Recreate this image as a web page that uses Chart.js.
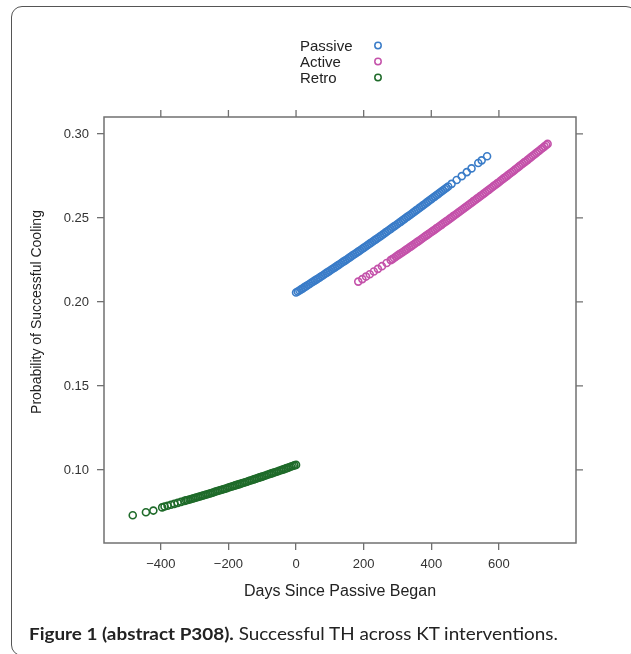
<!DOCTYPE html>
<html><head><meta charset="utf-8">
<script src="https://cdn.jsdelivr.net/npm/chart.js@4.4.1/dist/chart.umd.min.js"></script>
<style>
html,body{margin:0;padding:0;background:#fff;width:631px;height:654px;overflow:hidden;}
#wrap{position:relative;width:631px;height:654px;overflow:hidden;}
#frame{position:absolute;left:11px;top:6px;width:626px;height:650px;border:1.5px solid #555;border-radius:11px;box-sizing:border-box;}
canvas{position:absolute;left:0;top:0;}
#cap{position:absolute;left:29px;top:624px;font-family:Lato,"Open Sans",sans-serif;font-size:17px;line-height:20px;color:#222;white-space:nowrap;transform:scaleX(1.11);transform-origin:0 0;}
#cap b{font-weight:700;}
</style></head>
<body><div id="wrap"><div id="frame"></div><canvas id="c" width="631" height="654"></canvas><div id="cap"><b>Figure 1 (abstract P308).</b> Successful TH across KT interventions.</div></div>
<script>
const seriesNames = ['Passive','Active','Retro'];
const seriesColors = ['#3a7cc8','#c452aa','#1f6b2a'];

const xTicks = [-400,-200,0,200,400,600];
const yTicks = [0.10,0.15,0.20,0.25,0.30];
const xTitle = 'Days Since Passive Began';
const yTitle = 'Probability of Successful Cooling';

const passiveX = [
  0,5,10,15,20,25,30,35,40,45,
  50,55,60,65,70,75,80,85,90,95,
  100,105,110,115,120,125,130,135,140,145,
  150,155,160,165,170,175,180,185,190,195,
  200,205,210,215,220,225,230,235,240,245,
  250,255,260,265,270,275,280,285,290,295,
  300,305,310,315,320,325,330,335,340,345,
  350,355,360,365,370,375,380,385,390,395,
  400,405,410,415,420,425,430,435,440,445,
  450,460,475,490,505,519,539,549,565];
const passiveY = [
  0.2056,0.2062,0.2068,0.2075,0.2081,0.2088,0.2094,0.2101,0.2107,0.2114,
  0.2120,0.2127,0.2133,0.2140,0.2146,0.2153,0.2159,0.2166,0.2173,0.2179,
  0.2186,0.2193,0.2199,0.2206,0.2213,0.2219,0.2226,0.2233,0.2240,0.2246,
  0.2253,0.2260,0.2267,0.2274,0.2281,0.2287,0.2294,0.2301,0.2308,0.2315,
  0.2322,0.2329,0.2336,0.2343,0.2350,0.2357,0.2364,0.2371,0.2378,0.2385,
  0.2392,0.2399,0.2406,0.2414,0.2421,0.2428,0.2435,0.2443,0.2450,0.2457,
  0.2464,0.2471,0.2478,0.2486,0.2493,0.2501,0.2508,0.2515,0.2522,0.2530,
  0.2537,0.2545,0.2552,0.2560,0.2567,0.2575,0.2582,0.2590,0.2597,0.2605,
  0.2612,0.2620,0.2627,0.2635,0.2642,0.2650,0.2657,0.2665,0.2672,0.2680,
  0.2687,0.2703,0.2726,0.2749,0.2773,0.2795,0.2827,0.2843,0.2867];

const activeX = [
  184,196,207,218,230,242,254,268,
  280,285,290,295,300,305,310,315,320,325,
  330,335,340,345,350,355,360,365,370,375,
  380,385,390,395,400,405,410,415,420,425,
  430,435,440,445,450,455,460,465,470,475,
  480,485,490,495,500,505,510,515,520,525,
  530,535,540,545,550,555,560,565,570,575,
  580,585,590,595,600,605,610,615,620,625,
  630,635,640,645,650,655,660,665,670,675,
  680,685,690,695,700,705,710,715,720,725,
  730,735,740,744];
const activeY = [
  0.2121,0.2136,0.2151,0.2165,0.2181,0.2197,0.2213,0.2232,
  0.2249,0.2255,0.2262,0.2269,0.2276,0.2283,0.2290,0.2296,0.2303,0.2310,
  0.2317,0.2324,0.2331,0.2338,0.2345,0.2352,0.2359,0.2366,0.2373,0.2381,
  0.2388,0.2395,0.2402,0.2409,0.2416,0.2423,0.2430,0.2438,0.2445,0.2452,
  0.2459,0.2467,0.2474,0.2481,0.2488,0.2496,0.2503,0.2511,0.2518,0.2525,
  0.2532,0.2540,0.2547,0.2555,0.2562,0.2570,0.2577,0.2585,0.2592,0.2600,
  0.2607,0.2615,0.2622,0.2630,0.2637,0.2645,0.2652,0.2660,0.2667,0.2675,
  0.2683,0.2691,0.2698,0.2706,0.2713,0.2721,0.2729,0.2737,0.2744,0.2752,
  0.2760,0.2768,0.2775,0.2783,0.2791,0.2799,0.2807,0.2815,0.2823,0.2831,
  0.2838,0.2846,0.2854,0.2862,0.2870,0.2878,0.2886,0.2894,0.2902,0.2910,
  0.2918,0.2926,0.2934,0.2941];

const retroX = [
  -483,-444,-422,-396,-389,-380,-370,-360,-350,-340,
  -330,-325,-320,-315,-310,-305,-300,-295,-290,-285,
  -280,-275,-270,-265,-260,-255,-250,-245,-240,-235,
  -230,-225,-220,-215,-210,-205,-200,-195,-190,-185,
  -180,-175,-170,-165,-160,-155,-150,-145,-140,-135,
  -130,-125,-120,-115,-110,-105,-100,-95,-90,-85,
  -80,-75,-70,-65,-60,-55,-50,-45,-40,-35,
  -30,-25,-20,-15,-10,-5,0];
const retroY = [
  0.0730,0.0748,0.0758,0.0777,0.0782,0.0787,0.0793,0.0798,0.0804,0.0810,
  0.0816,0.0819,0.0821,0.0824,0.0827,0.0830,0.0833,0.0836,0.0839,0.0842,
  0.0845,0.0848,0.0851,0.0854,0.0857,0.0860,0.0863,0.0866,0.0870,0.0873,
  0.0876,0.0879,0.0882,0.0885,0.0888,0.0891,0.0895,0.0898,0.0901,0.0904,
  0.0908,0.0911,0.0914,0.0917,0.0921,0.0924,0.0927,0.0930,0.0934,0.0937,
  0.0940,0.0944,0.0947,0.0950,0.0954,0.0957,0.0960,0.0964,0.0967,0.0971,
  0.0974,0.0978,0.0981,0.0985,0.0988,0.0991,0.0995,0.0998,0.1002,0.1005,
  0.1009,0.1012,0.1016,0.1020,0.1023,0.1027,0.1030];

const seriesX = [passiveX, activeX, retroX];
const seriesY = [passiveY, activeY, retroY];

Chart.defaults.font.family = '"Liberation Sans", Arial, sans-serif';

const frameColor = '#707070';
const boxPlugin = {
  id: 'boxPlugin',
  afterDraw(chart) {
    const {ctx, chartArea: a, scales: {x, y}} = chart;
    ctx.save();
    ctx.strokeStyle = frameColor;
    ctx.lineWidth = 1.5;
    ctx.strokeRect(a.left, a.top, a.right - a.left, a.bottom - a.top);
    ctx.lineWidth = 1.3;
    ctx.beginPath();
    xTicks.forEach(v => { const p = x.getPixelForValue(v); ctx.moveTo(p, a.top); ctx.lineTo(p, a.top - 7); });
    yTicks.forEach(v => { const p = y.getPixelForValue(v); ctx.moveTo(a.right, p); ctx.lineTo(a.right + 7, p); });
    ctx.stroke();
    // y title
    ctx.save();
    ctx.translate(37, 312);
    ctx.rotate(-Math.PI / 2);
    ctx.font = '14px "Liberation Sans", Arial, sans-serif';
    ctx.fillStyle = '#222';
    ctx.textAlign = 'center';
    ctx.textBaseline = 'middle';
    ctx.fillText(yTitle, 0, 0);
    ctx.restore();
    // legend
    ctx.font = '15px "Liberation Sans", Arial, sans-serif';
    ctx.textAlign = 'left';
    ctx.textBaseline = 'middle';
    chart.data.datasets.forEach((ds, i) => {
      const ly = 46.5 + i * 16;
      ctx.fillStyle = '#222';
      ctx.fillText(ds.label, 300, ly);
      ctx.beginPath();
      ctx.arc(378, ly - 1, 3.2, 0, Math.PI * 2);
      ctx.strokeStyle = ds.borderColor;
      ctx.lineWidth = 1.5;
      ctx.stroke();
    });
    ctx.restore();
  }
};

const fmtX = v => v < 0 ? '\u2212' + Math.abs(v) : String(v);

new Chart(document.getElementById('c'), {
  type: 'scatter',
  data: {
    datasets: seriesNames.map((name, i) => ({
      label: name,
      data: seriesX[i].map((xv, j) => ({x: xv, y: seriesY[i][j]})),
      borderColor: seriesColors[i],
      backgroundColor: 'rgba(0,0,0,0)',
      pointRadius: 3.5,
      pointBorderWidth: 1.6,
      pointHoverRadius: 3.5,
      showLine: false
    }))
  },
  options: {
    responsive: false,
    animation: false,
    devicePixelRatio: 1,
    events: [],
    layout: {padding: {left: 28, top: 117, right: 55, bottom: 49}},
    plugins: {legend: {display: false}, tooltip: {enabled: false}},
    scales: {
      x: {
        type: 'linear', min: -568, max: 828,
        afterBuildTicks: s => { s.ticks = xTicks.map(v => ({value: v})); },
        afterFit: s => { s.height = 62; },
        grid: {display: true, drawOnChartArea: false, drawTicks: true, tickLength: 7, color: frameColor, lineWidth: 1.3},
        border: {display: false},
        ticks: {color: '#333', font: {size: 13}, padding: 7, maxRotation: 0, autoSkip: false, callback: v => fmtX(v)},
        title: {display: true, text: xTitle, color: '#222', font: {size: 16}, padding: {top: 0, bottom: 4}}
      },
      y: {
        type: 'linear', min: 0.0565, max: 0.3101,
        afterBuildTicks: s => { s.ticks = yTicks.map(v => ({value: v})); },
        afterFit: s => { s.width = 76; },
        grid: {display: true, drawOnChartArea: false, drawTicks: true, tickLength: 7, color: frameColor, lineWidth: 1.3},
        border: {display: false},
        ticks: {color: '#333', font: {size: 13}, padding: 8, autoSkip: false, callback: v => Number(v).toFixed(2)},
        title: {display: false}
      }
    }
  },
  plugins: [boxPlugin]
});
</script>
</body></html>
